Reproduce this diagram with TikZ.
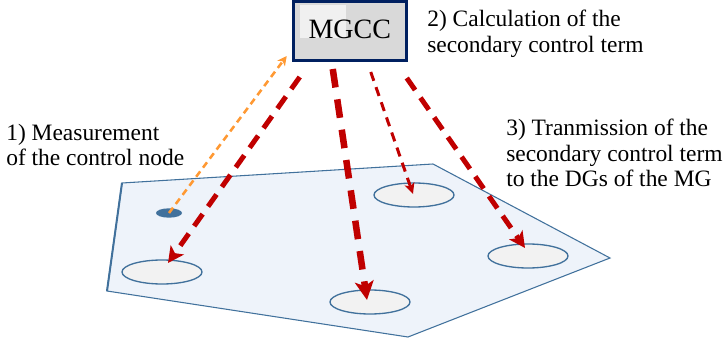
\documentclass[tikz,border=0pt]{standalone}
\usepackage{fontspec}
\setmainfont{Liberation Serif}
\usetikzlibrary{shapes.geometric, arrows.meta, calc}

\definecolor{mgblue}{HTML}{41719C}
\definecolor{mgfill}{HTML}{EEF3FA}
\definecolor{dgfill}{HTML}{F2F2F2}
\definecolor{boxnavy}{HTML}{002060}
\definecolor{boxgray}{HTML}{D9D9D9}
\definecolor{boxlight}{HTML}{F0F0F0}
\definecolor{sendred}{HTML}{C00000}
\definecolor{measorange}{HTML}{FF9933}

\begin{document}
\begin{tikzpicture}[
    x=0.75pt, y=-0.75pt,
    ctrlbox/.style={rectangle, draw=boxnavy, line width=2.25pt, fill=boxgray, minimum width=84.75pt, minimum height=44.25pt, inner sep=0pt, text depth=0.25em, font=\fontsize{21}{25}\selectfont,
        path picture={\fill[boxlight] ($(path picture bounding box.north west)+(4.9pt,-2.6pt)$) rectangle ($(path picture bounding box.north west)+(39.4pt,-27.4pt)$);}},
    dgnode/.style={ellipse, draw=mgblue, line width=1pt, fill=dgfill, minimum width=60pt, minimum height=18pt, inner sep=0pt},
    measnode/.style={ellipse, fill=mgblue, minimum width=19.5pt, minimum height=7pt, inner sep=0pt},
    steptext/.style={anchor=north west, inner sep=0pt, align=left, font=\fontsize{17.6}{19}\selectfont},
    measarrow/.style={measorange, line width=1.9pt, dash pattern=on 5pt off 3.5pt, -{Stealth[length=7pt, width=7pt, inset=2pt]}},
    sendarrow/.style={sendred, line width=3.75pt, dash pattern=on 11pt off 7pt, -{Stealth[length=12pt, width=12pt, inset=3pt]}},
    bigarrow/.style={sendred, line width=4.9pt, dash pattern=on 14pt off 9pt, -{Stealth[length=14pt, width=14pt, inset=3.5pt]}},
    thinarrow/.style={sendred, line width=2.25pt, dash pattern=on 7pt off 5pt, -{Stealth[length=8pt, width=7.5pt, inset=2pt]}},
]
    \useasboundingbox (0,0) rectangle (727,345);

    % microgrid plane
    \draw[mgblue, line width=0.8pt, fill=mgfill] (122,183) -- (433,164) -- (610,258) -- (408,337) -- (107,291) -- cycle;
    \draw[mgblue, line width=1.5pt] (107,291) -- (122,183);

    % control node and DGs
    \node (ctrl) [measnode] at (169,213) {};
    \node (dg1) [dgnode] at (162,272) {};
    \node (dg2) [dgnode] at (370,302) {};
    \node (dg3) [dgnode] at (414,195) {};
    \node (dg4) [dgnode] at (528,256) {};

    % central controller
    \node (mgcc) [ctrlbox] at (349.75,31) {MGCC};

    % steps
    \node (step1) [steptext] at (6,124) {1) Measurement\\of the control node};
    \node (step2) [steptext] at (427,10) {2) Calculation of the\\secondary control term};
    \node (step3) [steptext] at (506,119) {3) Tranmission of the\\secondary control term\\to the DGs of the MG};

    % arrows
    \draw [measarrow] (ctrl.center) -- ($(mgcc.south west)+(-5,-6)$);
    \draw [sendarrow] ($(mgcc.south)+(-50,15)$) -- ($(dg1.center)+(6,-9)$);
    \draw [bigarrow] ($(mgcc.south)+(-17,7)$) -- ($(dg2.center)+(-3,-2)$);
    \draw [thinarrow] ($(mgcc.south)+(21,10)$) -- ($(dg3.center)+(-1,-1)$);
    \draw [sendarrow] ($(mgcc.south)+(57,16)$) -- ($(dg4.center)+(-3,-8)$);

\end{tikzpicture}
\end{document}
